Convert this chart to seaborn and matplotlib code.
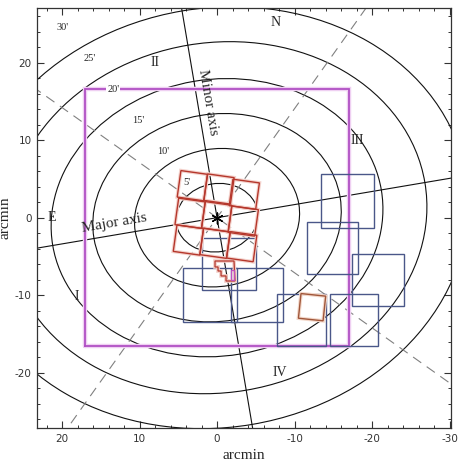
import numpy as np
import pandas as pd
import matplotlib
matplotlib.use("Agg")
import matplotlib.pyplot as plt
import seaborn as sns
from matplotlib.patches import Ellipse, Rectangle, Polygon

# ---------------- data ----------------
radius_labels = ["5'", "10'", "15'", "20'", "25'", "30'"]
semi_major = [5.3, 10.7, 16.1, 21.5, 27.2, 32.6]
axis_ratio = 0.83
pa_major = -9.6
label_x = [3.9, 7.0, 10.2, 13.4, 16.4, 19.9]
label_y = [4.6, 8.5, 12.6, 16.5, 20.6, 24.5]

region_names = ["N", "E", "I", "II", "III", "IV"]
region_x = [-7.6, 21.3, 18.1, 8.0, -18.1, -8.1]
region_y = [25.2, 0.0, -10.2, 20.0, 10.0, -20.0]

box_x = [17.0, -17.0]
box_y = [-16.5, 16.6]

blue_x0 = [-13.4, -11.6, -17.4, -7.7, -14.6, 4.4, -1.8, 1.9]
blue_x1 = [-20.3, -18.2, -24.1, -14.1, -20.8, -2.6, -8.5, -5.0]
blue_y0 = [-1.3, -7.3, -11.4, -16.5, -16.5, -13.5, -13.5, -9.3]
blue_y1 = [5.6, -0.6, -4.7, -9.8, -9.8, -6.5, -6.5, -2.6]

red_cx = [3.19, -0.26, -3.52, 3.48, 0.04, -3.39, 3.70, 0.26, -3.19]
red_cy = [4.13, 3.70, 3.02, 0.57, 0.13, -0.43, -2.88, -3.30, -3.74]
red_side = 3.45
red_angle = 8.0

lone_cx, lone_cy, lone_side, lone_angle = -12.26, -11.55, 3.2, 6.0

wfpc_x = [0.26, -2.19, -2.32, -1.16, -1.16, -0.52, -0.52, -0.13, -0.13, 0.26]
wfpc_y = [-5.59, -5.59, -8.17, -8.17, -7.52, -7.52, -6.88, -6.88, -6.36, -6.36]

# ---------------- style ----------------
sns.set_theme(style="ticks")
plt.rcParams["font.family"] = ["DejaVu Sans"]
plt.rcParams["axes.unicode_minus"] = False

fig = plt.figure(figsize=(4.61, 4.63), dpi=100)
ax = fig.add_axes([37/461, 35/463, 414/461, 420/463])
ax.set_xlim(23.23, -30.19)
ax.set_ylim(-27.14, 27.06)
ax.set_facecolor("white")

serif = ["Liberation Serif", "DejaVu Serif"]

# ellipses
for a in semi_major:
    ax.add_patch(Ellipse((0, 0), 2*a, 2*a*axis_ratio, angle=pa_major,
                         fill=False, ec="#111111", lw=0.8, zorder=2))
for lab, x, y in zip(radius_labels, label_x, label_y):
    ax.text(x, y, lab, fontsize=7.5, ha="center", va="center", family=serif, zorder=5,
            bbox=dict(fc="white", ec="none", pad=0.5))

# axes lines
t = np.array([-60.0, 60.0])
for ang, ls, col in [(pa_major, "-", "#111111"), (pa_major + 90, "-", "#111111"),
                     (pa_major + 45, (0, (9, 6)), "#808080"), (pa_major + 135, (0, (9, 6)), "#808080")]:
    r = np.deg2rad(ang)
    ax.plot(t*np.cos(r), t*np.sin(r), ls=ls, color=col, lw=0.8, zorder=2)

# magenta box
bx = [box_x[0], box_x[1], box_x[1], box_x[0], box_x[0]]
by = [box_y[0], box_y[0], box_y[1], box_y[1], box_y[0]]
ax.plot(bx, by, color="#efd0f2", lw=3.2, zorder=3, solid_joinstyle="miter")
ax.plot(bx, by, color="#b050c4", lw=1.3, zorder=3.1, solid_joinstyle="miter")

# blue fields
for x0, x1, y0, y1 in zip(blue_x0, blue_x1, blue_y0, blue_y1):
    ax.add_patch(Rectangle((x0, y0), x1 - x0, y1 - y0, fill=False,
                           ec="#4a5789", lw=1.0, zorder=4))

# red fields
for cx, cy in zip(red_cx, red_cy):
    for lw, col in [(2.6, "#f4d2cc"), (1.0, "#b5372c")]:
        ax.add_patch(Rectangle((cx - red_side/2, cy - red_side/2), red_side, red_side,
                               angle=red_angle, rotation_point="center", fill=False,
                               ec=col, lw=lw, zorder=4 if lw > 2 else 4.2))
for lw, col in [(2.6, "#f3d8ca"), (1.0, "#a0563a")]:
    ax.add_patch(Rectangle((lone_cx - lone_side/2, lone_cy - lone_side/2), lone_side, lone_side,
                           angle=lone_angle, rotation_point="center", fill=False,
                           ec=col, lw=lw, zorder=4 if lw > 2 else 4.2))
ax.add_patch(Polygon(np.column_stack([wfpc_x, wfpc_y]), closed=True, fill=False,
                     ec="#f2cdc6", lw=2.6, zorder=4))
ax.add_patch(Polygon(np.column_stack([wfpc_x, wfpc_y]), closed=True, fill=False,
                     ec="#b5372c", lw=0.9, zorder=4.2))
ax.add_patch(Rectangle((-1.8, -8.1), -0.45, 1.3, fill=False, ec="#c050c0", lw=0.9, zorder=4.3))

# centre
centre = pd.DataFrame({"x": [0.0], "y": [0.0]})
sns.scatterplot(data=centre, x="x", y="y", marker=(6, 2, 0), s=60, color="black",
                linewidth=1.0, ax=ax, zorder=6, legend=False)

# region labels
for n, x, y in zip(region_names, region_x, region_y):
    ax.text(x, y, n, fontsize=10, ha="center", va="center", family=serif, zorder=5)

ax.text(13.3, -0.7, "Major axis", fontsize=11, rotation=-pa_major, ha="center", va="center",
        family=serif, rotation_mode="anchor", zorder=5)
ax.text(1.2, 14.9, "Minor axis", fontsize=11, rotation=-(90 + pa_major), ha="center", va="center",
        family=serif, rotation_mode="anchor", zorder=5)

# ticks
ax.set_xticks([20, 10, 0, -10, -20, -30])
ax.set_yticks([-20, -10, 0, 10, 20])
ax.set_xticks(np.arange(-30, 24, 2), minor=True)
ax.set_yticks(np.arange(-26, 28, 2), minor=True)
ax.tick_params(which="both", direction="in", top=True, right=True, colors="#333333",
               labelsize=7.5, pad=4)
ax.tick_params(which="major", length=5, width=0.8)
ax.tick_params(which="minor", length=2.5, width=0.7)
for sp in ax.spines.values():
    sp.set_color("#333333")
    sp.set_linewidth(0.9)
ax.set_xlabel("arcmin", fontsize=11, family=serif, labelpad=4)
ax.set_ylabel("arcmin", fontsize=11, family=serif, labelpad=2)

fig.savefig("out.png", dpi=100)
